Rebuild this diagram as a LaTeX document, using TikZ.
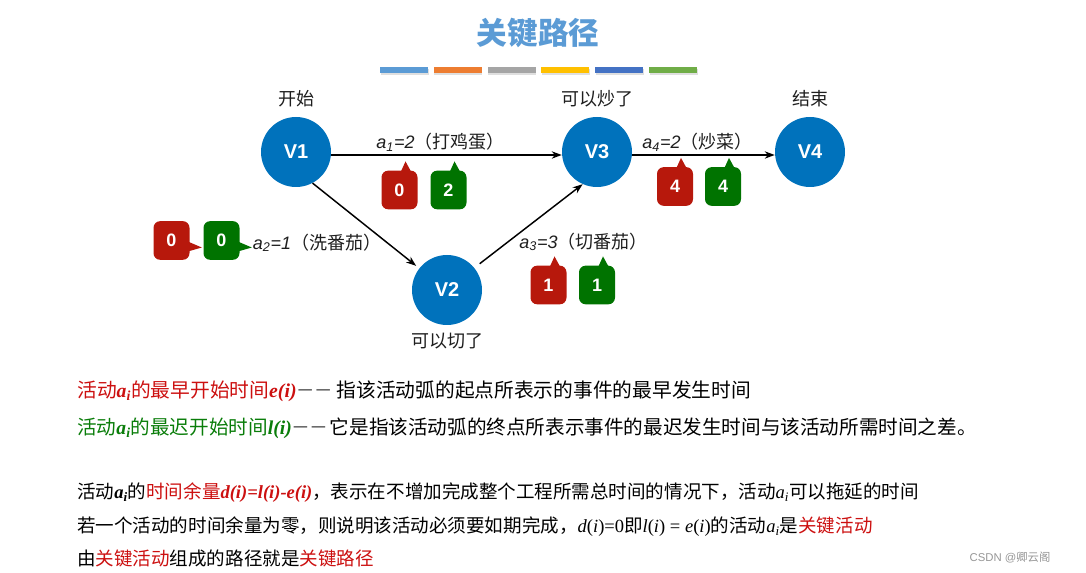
\documentclass[tikz,border=0pt]{standalone}
\usepackage{fontspec}
\setmainfont{Noto Sans CJK SC}
\newfontfamily\arial{Liberation Sans}
\newfontfamily\tnr{Liberation Serif}
\usetikzlibrary{arrows.meta,positioning,shadows}

\definecolor{vblue}{RGB}{0,114,188}
\definecolor{bred}{RGB}{183,24,12}
\definecolor{bgreen}{RGB}{0,115,0}
\definecolor{tred}{RGB}{204,16,16}
\definecolor{tgreen}{RGB}{10,125,10}
\definecolor{ttl}{RGB}{91,155,213}
\definecolor{txt}{RGB}{30,30,30}
\definecolor{wm}{RGB}{150,150,150}
\definecolor{barA}{RGB}{91,155,213}
\definecolor{barB}{RGB}{237,125,49}
\definecolor{barC}{RGB}{165,165,165}
\definecolor{barD}{RGB}{255,192,0}
\definecolor{barE}{RGB}{68,114,196}
\definecolor{barF}{RGB}{112,173,71}

\newcommand\eai{{\tnr\bfseries\itshape a\textsubscript{i}}}
\newcommand\pai{{\tnr\itshape a\textsubscript{i}}}
\newcommand\bit[1]{{\tnr\bfseries\itshape #1}}
\newcommand\fni[1]{{\tnr\itshape #1}{\tnr(}{\tnr\itshape i}{\tnr)}}
\newcommand\dashes{\hspace{1.5pt}\raisebox{3pt}{\tnr\bfseries\fontsize{10}{12}\selectfont —\hspace{3.5pt}—}\hspace{3.5pt}}
\newcommand\ea[2]{{\arial\itshape a\textsubscript{#1}=#2}}

\begin{document}
\begin{tikzpicture}[x=0.75pt,y=-0.75pt,
  vert/.style={circle,fill=vblue,minimum size=52.5pt,inner sep=0pt,text=white,
    font=\arial\bfseries\fontsize{15}{18}\selectfont},
  evlabel/.style={font=\fontsize{13.5}{16}\selectfont,text=txt,inner sep=1pt},
  arc/.style={-{Stealth[length=7.5pt,width=5.5pt]},line width=1.1pt},
  numbox/.style={rounded corners=5pt,minimum width=27pt,minimum height=29pt,inner sep=0pt,
    text=white,font=\arial\bfseries\fontsize{13.5}{16}\selectfont},
  txtline/.style={anchor=west,inner sep=0pt,font=\fontsize{14.8}{17}\selectfont},
  txtsmall/.style={txtline,font=\fontsize{13.9}{16}\selectfont}]
\useasboundingbox (0,0) rectangle (1086,573);

% title and colour bars
\node[font=\bfseries\fontsize{23}{26}\selectfont,text=ttl] (title) at (538,33) {关键路径};
\foreach \c [count=\i from 0] in {barA,barB,barC,barD,barE,barF}
  \fill[\c,drop shadow={opacity=0.25,shadow xshift=0.4pt,shadow yshift=-1.2pt}]
    (380+\i*53.8,67) rectangle ++(48,6);

% events
\node[vert] (v1) at (296,152) {V1};
\node[vert] (v2) at (447,290) {V2};
\node[vert] (v3) at (597,152) {V3};
\node[vert] (v4) at (810,152) {V4};
\node[evlabel,above=6pt of v1] (l1) {开始};
\node[evlabel,above=6pt of v3] (l3) {可以炒了};
\node[evlabel,above=6pt of v4] (l4) {结束};
\node[evlabel,below=5pt of v2] (l2) {可以切了};

% activities
\draw[arc] ([yshift=-2.25pt]v1.east) -- ([yshift=-2.25pt]v3.west)
  node[evlabel,midway,above=1pt,xshift=-4.5pt] (a1) {\ea{1}{2}（打鸡蛋）};
\draw[arc] ([yshift=-2.25pt]v3.east) -- ([yshift=-2.25pt]v4.west)
  node[evlabel,midway,above=1pt,xshift=-4.5pt] (a4) {\ea{4}{2}（炒菜）};
\draw[arc,shorten >=3pt] (v1.-62) -- (v2.142)
  node[evlabel,pos=0.7,anchor=east,xshift=-3pt] (a2) {\ea{2}{1}（洗番茄）};
\draw[arc,shorten <=5pt] (v2.39) -- (v3.-114)
  node[evlabel,pos=0.31,anchor=west,xshift=7pt] (a3) {\ea{3}{3}（切番茄）};

% e(i) and l(i) callouts
\node[numbox,fill=bred] (ea1) at (399.5,190) {0};
\node[numbox,fill=bgreen] (la1) at (448.5,190) {2};
\node[numbox,fill=bred] (ea3) at (548.5,285) {1};
\node[numbox,fill=bgreen] (la3) at (597,285) {1};
\node[numbox,fill=bred] (ea4) at (675,186.5) {4};
\node[numbox,fill=bgreen] (la4) at (723,186.5) {4};
\node[numbox,fill=bred] (ea2) at (171.5,240.5) {0};
\node[numbox,fill=bgreen] (la2) at (221.5,240.5) {0};
\foreach \n/\c in {ea1/bred,la1/bgreen,ea3/bred,la3/bgreen,ea4/bred,la4/bgreen}
  \fill[\c] (\n.north) ++(1,2) -- ++(5,-11) -- ++(6,11) -- cycle;
\foreach \n/\c in {ea2/bred,la2/bgreen}
  \fill[\c] (\n.east) ++(-2,1) -- ++(14,6) -- ++(-14,4) -- cycle;

% notes
\node[txtline] (t1) at (77,391) {\textcolor{tred}{活动\eai 的最早开始时间\bit{e(i)}}\dashes\hspace{1.5pt}指该活动弧的起点所表示的事件的最早发生时间};
\node[txtline,font=\fontsize{14.7}{17}\selectfont] (t2) at (77,428) {\textcolor{tgreen}{活动\eai 的最迟开始时间\bit{l(i)}}\dashes 它是指该活动弧的终点所表示事件的最迟发生时间与该活动所需时间之差。};
\node[txtsmall] (t3) at (77,493) {活动\eai 的\textcolor{tred}{时间余量\bit{d(i)=l(i)-e(i)}}，表示在不增加完成整个工程所需总时间的情况下，活动\pai 可以拖延的时间};
\node[txtsmall] (t4) at (77,527) {若一个活动的时间余量为零，则说明该活动必须要如期完成，\fni{d}{\tnr=0}即\fni{l}{\tnr\ =\ }\fni{e}的活动\pai 是\textcolor{tred}{关键活动}};
\node[txtsmall] (t5) at (77,558) {由\textcolor{tred}{关键活动}组成的路径就是\textcolor{tred}{关键路径}};
\node[font=\fontsize{8.5}{10}\selectfont,text=wm] (mark) at (1010,557) {{\arial CSDN @}卿云阁};
\end{tikzpicture}
\end{document}
